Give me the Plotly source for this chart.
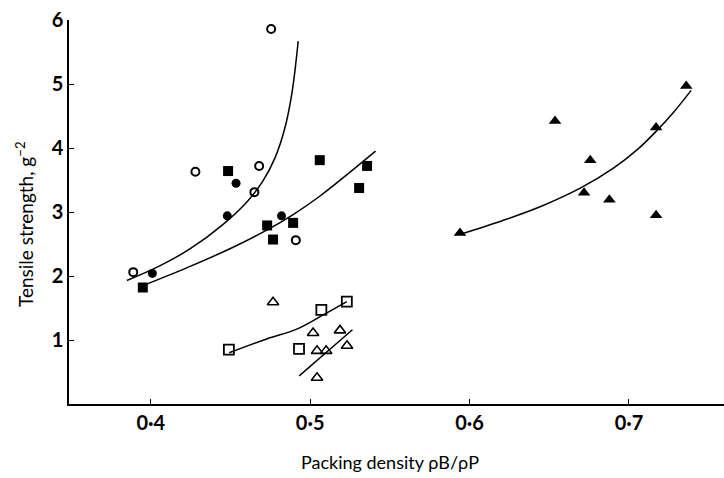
import plotly.graph_objects as go

# ---- data ----
open_circle_x = [0.389, 0.428, 0.465, 0.468, 0.4755, 0.491]
open_circle_y = [2.06, 3.63, 3.31, 3.72, 5.86, 2.56]

filled_circle_x = [0.401, 0.448, 0.4535, 0.482]
filled_circle_y = [2.04, 2.94, 3.45, 2.94]

filled_square_x = [0.395, 0.4485, 0.473, 0.4767, 0.4893, 0.506, 0.5307, 0.5357]
filled_square_y = [1.82, 3.64, 2.79, 2.57, 2.83, 3.81, 3.375, 3.72]

open_square_x = [0.449, 0.493, 0.507, 0.523]
open_square_y = [0.85, 0.86, 1.47, 1.60]

open_tri_x = [0.4767, 0.5018, 0.5043, 0.510, 0.5043, 0.5187, 0.5231]
open_tri_y = [1.59, 1.11, 0.83, 0.83, 0.41, 1.15, 0.91]

filled_tri_x = [0.594, 0.6536, 0.6718, 0.6757, 0.6877, 0.717, 0.717, 0.7359]
filled_tri_y = [2.67, 4.42, 3.30, 3.81, 3.19, 4.32, 2.95, 4.97]

# fitted curves
circle_fit_x = [0.385, 0.405, 0.425, 0.445, 0.460, 0.470, 0.478, 0.484, 0.4885, 0.4925]
circle_fit_y = [1.93, 2.15, 2.43, 2.80, 3.15, 3.47, 3.85, 4.30, 4.85, 5.67]

fsquare_fit_x = [0.3952, 0.4228, 0.450, 0.473, 0.4893, 0.5062, 0.541]
fsquare_fit_y = [1.85, 2.13, 2.43, 2.72, 2.96, 3.25, 3.95]

osquare_fit_x = [0.4492, 0.4727, 0.4916, 0.5073, 0.523]
osquare_fit_y = [0.80, 1.016, 1.17, 1.38, 1.60]

otri_fit_x = [0.4931, 0.5265]
otri_fit_y = [0.44, 1.16]

ftri_fit_x = [0.594, 0.620, 0.645, 0.670, 0.690, 0.705, 0.717, 0.728, 0.739]
ftri_fit_y = [2.65, 2.86, 3.09, 3.38, 3.68, 3.97, 4.26, 4.56, 4.90]

x_ticks = [0.4, 0.5, 0.6, 0.7]
x_tick_text = ["0·4", "0·5", "0·6", "0·7"]
y_ticks = [1, 2, 3, 4, 5, 6]
y_tick_text = ["1", "2", "3", "4", "5", "6"]

FONT = "Lato"
fig = go.Figure()

line_style = dict(color="black", width=1.5, shape="spline", smoothing=1.0)
for fx, fy in [(circle_fit_x, circle_fit_y), (fsquare_fit_x, fsquare_fit_y),
               (osquare_fit_x, osquare_fit_y), (otri_fit_x, otri_fit_y),
               (ftri_fit_x, ftri_fit_y)]:
    fig.add_trace(go.Scatter(x=fx, y=fy, mode="lines", line=line_style,
                             hoverinfo="skip", showlegend=False))

def pts(x, y, symbol, size, lw=0):
    fig.add_trace(go.Scatter(
        x=x, y=y, mode="markers", showlegend=False,
        marker=dict(symbol=symbol, size=size, color="black",
                    line=dict(color="black", width=lw))))

pts(open_circle_x, open_circle_y, "circle-open", 8, 2)
pts(filled_circle_x, filled_circle_y, "circle", 9)
pts(filled_square_x, filled_square_y, "square", 10)
pts(open_square_x, open_square_y, "square-open", 10, 1.8)
pts(open_tri_x, open_tri_y, "triangle-up-open", 10, 1.6)
pts(filled_tri_x, filled_tri_y, "triangle-up", 11)

tickfont = dict(family=FONT, size=20, color="black", weight="bold")
fig.update_layout(
    width=724, height=478,
    margin=dict(l=69, r=0, t=20, b=74),
    paper_bgcolor="white", plot_bgcolor="white",
    font=dict(family=FONT, color="black"),
    xaxis=dict(range=[0.3487, 0.7596], tickvals=x_ticks, ticktext=x_tick_text,
               showgrid=False, zeroline=False, showline=True, linecolor="black",
               linewidth=1.5, ticks="inside", ticklen=5, tickcolor="black",
               tickfont=tickfont, mirror=False),
    yaxis=dict(range=[0, 6.0], tickvals=y_ticks, ticktext=y_tick_text,
               showgrid=False, zeroline=False, showline=True, linecolor="black",
               linewidth=1.5, ticks="inside", ticklen=5, tickcolor="black",
               tickfont=tickfont, mirror=False),
    annotations=[
        dict(text="Packing density ρB/ρP", xref="paper", yref="paper",
             x=0.49, y=-0.151, showarrow=False, xanchor="center", yanchor="middle",
             font=dict(family=FONT, size=18, color="black")),
        dict(text="Tensile strength, g<sup>−2</sup>", xref="paper", yref="paper",
             x=-0.067, y=0.469, showarrow=False, textangle=-90,
             xanchor="center", yanchor="middle",
             font=dict(family=FONT, size=19, color="black")),
    ],
)

fig.write_html("out.html")
